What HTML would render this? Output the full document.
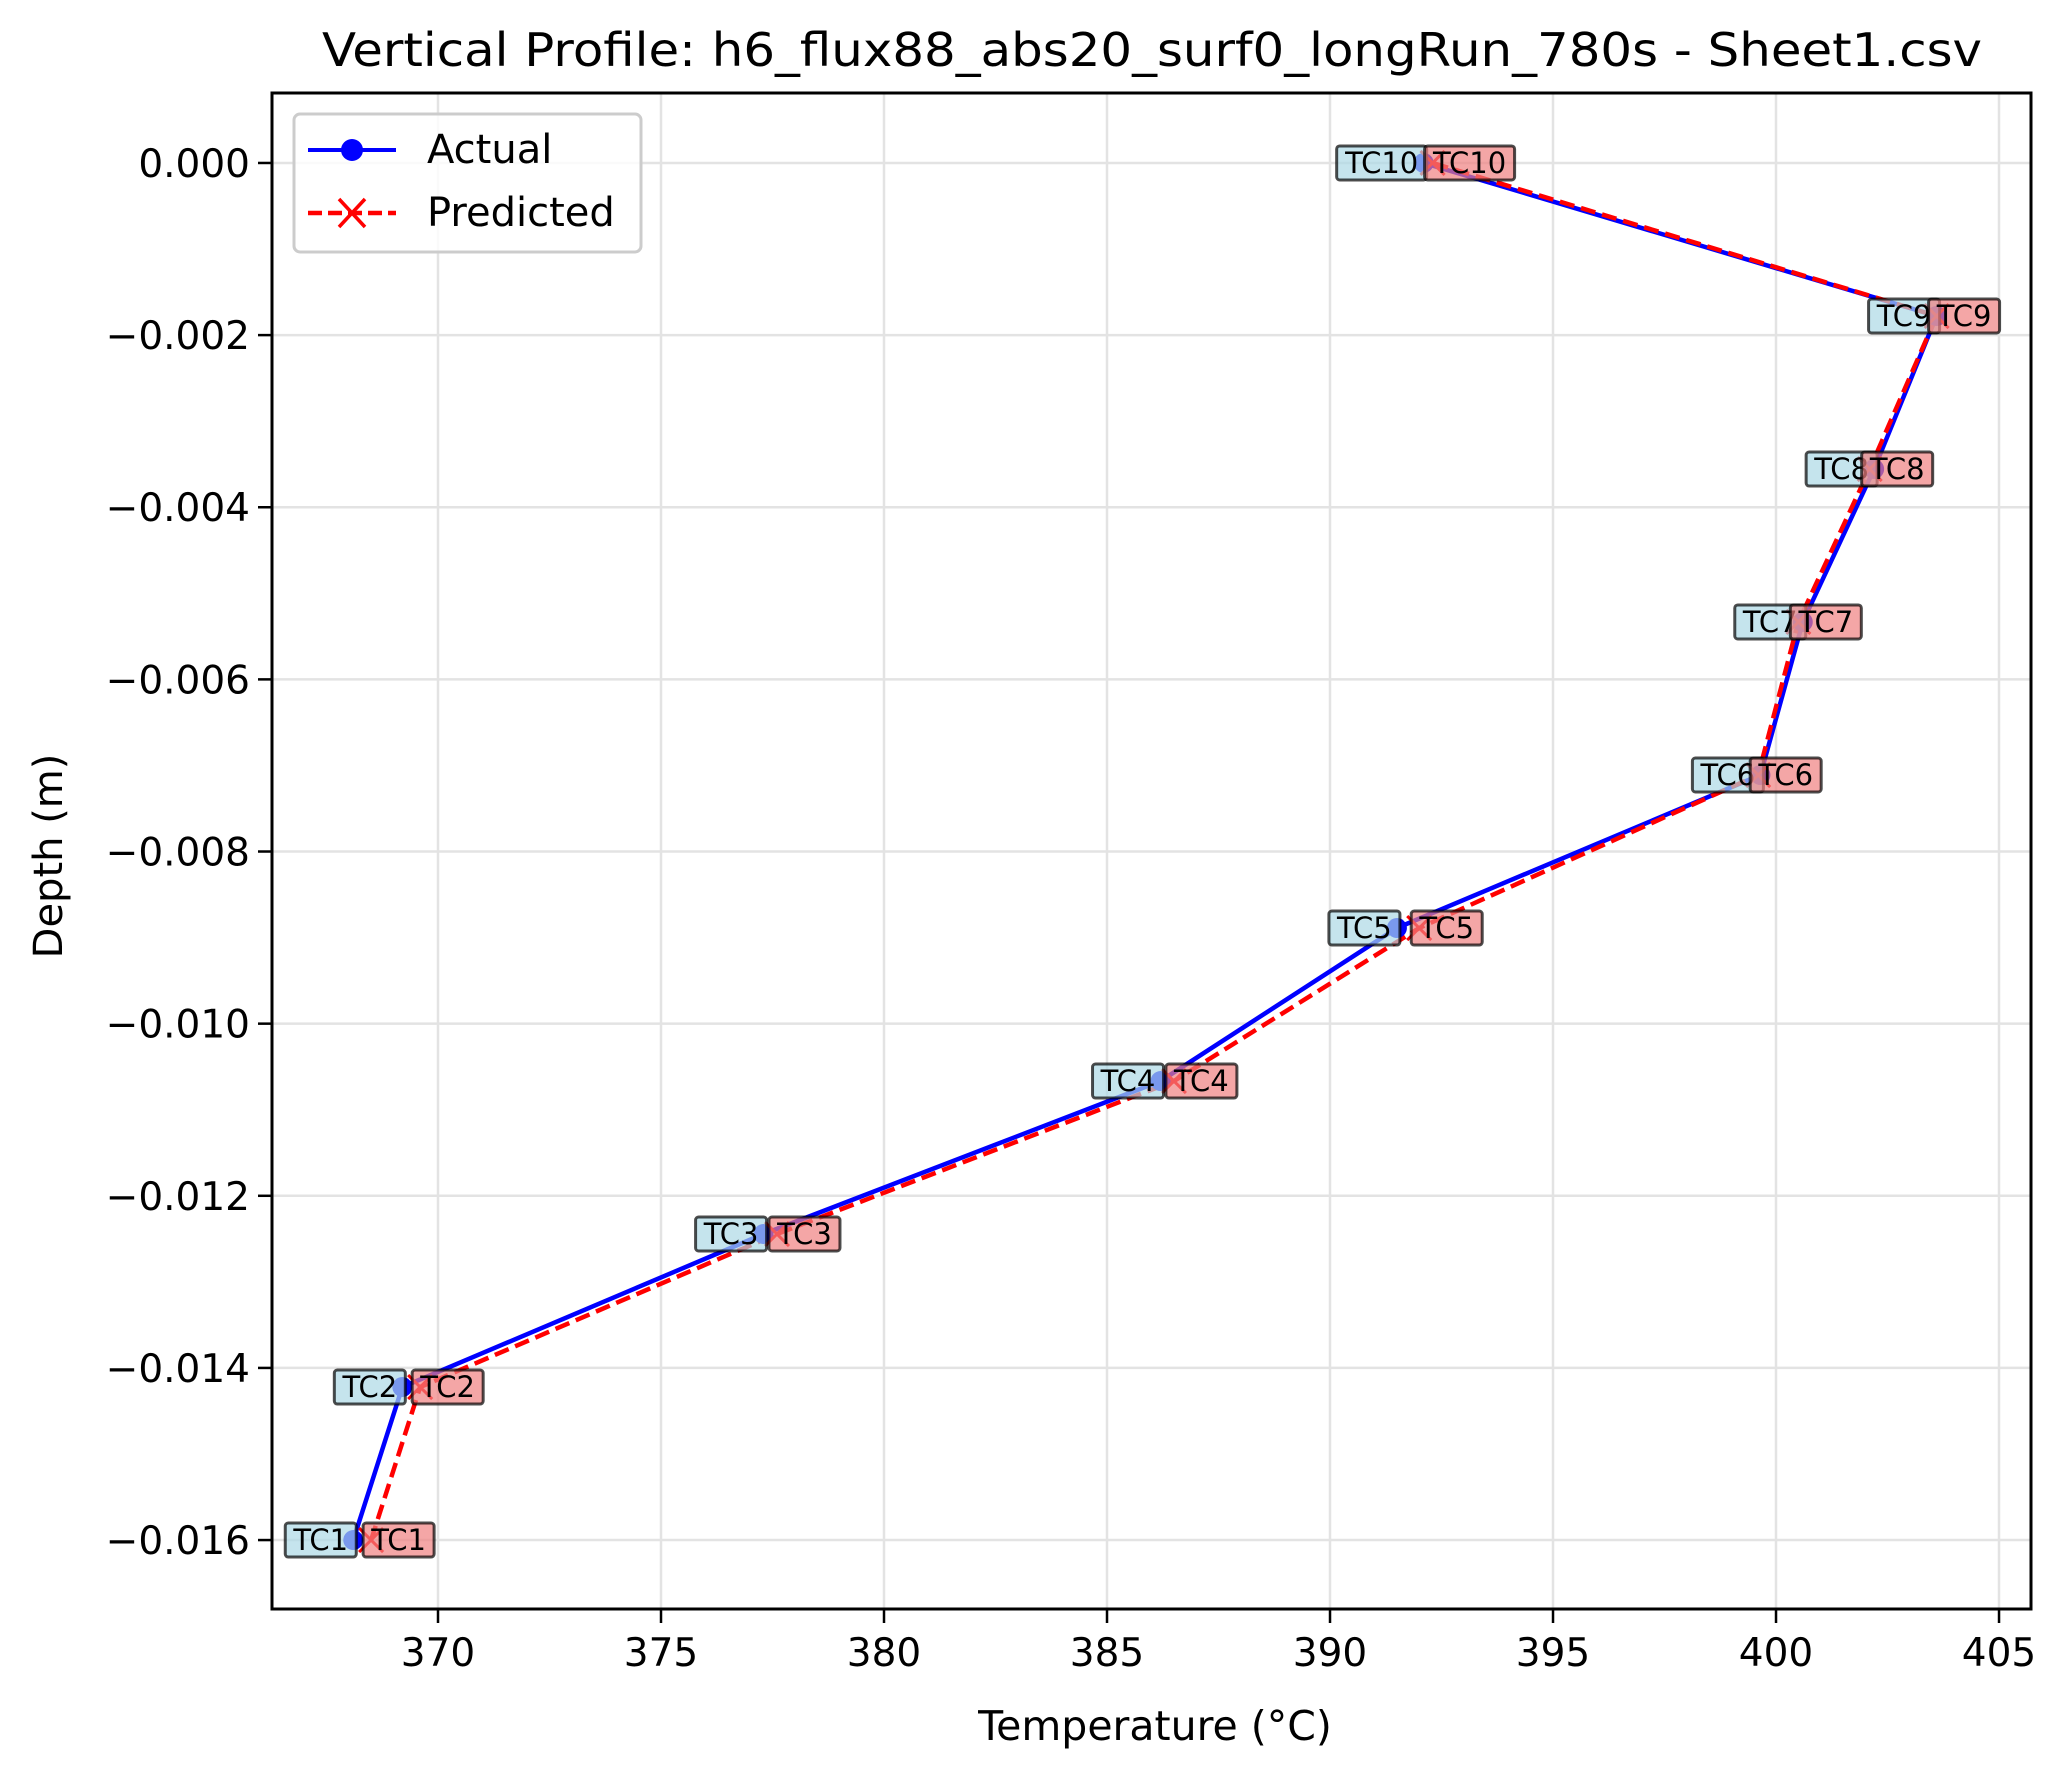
<!DOCTYPE html>
<html><head><meta charset="utf-8"><style>
body{margin:0;background:#fff}
svg text{font-family:"DejaVu Sans","Liberation Sans",sans-serif}
</style></head><body>
<svg id="chart" width="2067" height="1769" viewBox="0 0 2067 1769" xmlns="http://www.w3.org/2000/svg">
<rect width="2067" height="1769" fill="#fff"/>
<g id="grid"></g>
<g id="axes"></g>
<g id="series"></g>
<g id="labels"></g>
<text x="1152" y="66" font-size="46" text-anchor="middle" textLength="1660" lengthAdjust="spacingAndGlyphs">Vertical Profile: h6_flux88_abs20_surf0_longRun_780s - Sheet1.csv</text>
<text x="1155" y="1740" font-size="41" text-anchor="middle">Temperature (°C)</text>
<text x="62" y="856" font-size="40" text-anchor="middle" transform="rotate(-90 62 856)">Depth (m)</text>
<g>
<rect x="294" y="114" width="347" height="138" rx="6" fill="#fff" fill-opacity="0.8" stroke="#ccc" stroke-width="3"/>
<line x1="308" y1="150" x2="396" y2="150" stroke="#0000ff" stroke-width="4"/>
<circle cx="352" cy="150" r="11" fill="#0000ff"/>
<text x="427" y="163" font-size="40">Actual</text>
<line x1="308" y1="213" x2="396" y2="213" stroke="#ff0000" stroke-width="4.5" stroke-dasharray="14,6"/>
<path d="M339 199 L365 227 M365 199 L339 227" stroke="#ff0000" stroke-width="3.5"/>
<text x="427" y="226" font-size="40">Predicted</text>
</g>
</svg>
<script>
const sensors = ["TC1","TC2","TC3","TC4","TC5","TC6","TC7","TC8","TC9","TC10"];
const depths = [-0.016,-0.014222,-0.012444,-0.010667,-0.008889,-0.007111,-0.005333,-0.003556,-0.001778,0];
const actualTemps = [368.1,369.2,377.3,386.2,391.5,399.65,400.6,402.2,403.6,392.1];
const predictedTemps = [368.5,369.6,377.6,386.5,392.0,399.6,400.5,402.1,403.6,392.3];
const xTicks = [370,375,380,385,390,395,400,405];
const yTicks = [0,-0.002,-0.004,-0.006,-0.008,-0.010,-0.012,-0.014,-0.016];

const L=272,R=2031,T=93,B=1609;
const xMin=366.278,xMax=405.717,yMin=-0.016801,yMax=0.000813;
const xs=v=>L+(v-xMin)/(xMax-xMin)*(R-L);
const ys=v=>B-(v-yMin)/(yMax-yMin)*(B-T);
const NS="http://www.w3.org/2000/svg";
function mk(tag,attrs,parent,txt){const e=document.createElementNS(NS,tag);for(const k in attrs)e.setAttribute(k,attrs[k]);if(txt!==undefined)e.textContent=txt;parent.appendChild(e);return e;}
const grid=document.getElementById('grid'),axes=document.getElementById('axes'),ser=document.getElementById('series'),lab=document.getElementById('labels');
xTicks.forEach(t=>{const x=xs(t);
 const g=mk('line',{x1:x,x2:x,y1:T,y2:B,stroke:'#e3e3e3','stroke-width':2.5},grid);
 
 
 mk('line',{x1:x,x2:x,y1:B,y2:B+14,stroke:'#000','stroke-width':2.5},axes);
 const tx=mk('text',{x:x,y:B+57,'font-size':39,'text-anchor':'middle'},axes,String(t));
 
 
});
yTicks.forEach(t=>{const y=ys(t);
 const g=mk('line',{x1:L,x2:R,y1:y,y2:y,stroke:'#e3e3e3','stroke-width':2.5},grid);
 
 
 mk('line',{x1:L-14,x2:L,y1:y,y2:y,stroke:'#000','stroke-width':2.5},axes);
 const s=(t<0?'\u2212':'')+Math.abs(t).toFixed(3);
 const tx=mk('text',{x:L-22,y:y+14,'font-size':39,'text-anchor':'end'},axes,s);
 
 
});
const frame=mk('rect',{x:L,y:T,width:R-L,height:B-T,fill:'none',stroke:'#000','stroke-width':3},axes);



const aPts=actualTemps.map((v,i)=>xs(v)+','+ys(depths[i])).join(' ');
const pPts=predictedTemps.map((v,i)=>xs(v)+','+ys(depths[i])).join(' ');
const al=mk('polyline',{points:aPts,fill:'none',stroke:'#0000ff','stroke-width':4.5},ser);


const pl=mk('polyline',{points:pPts,fill:'none',stroke:'#ff0000','stroke-width':4.5,'stroke-dasharray':'15,7'},ser);


actualTemps.forEach((v,i)=>{
 const c=mk('circle',{cx:xs(v),cy:ys(depths[i]),r:10,fill:'#0000ff'},ser);
 
 
});
predictedTemps.forEach((v,i)=>{const x=xs(v),y=ys(depths[i]);
 const p=mk('path',{d:`M${x-12} ${y-12}L${x+12} ${y+12}M${x+12} ${y-12}L${x-12} ${y+12}`,stroke:'#ff0000','stroke-width':3},ser);
 
 
});
function box(x,y,txt,fill,right){
 const w=txt.length>3?90:71,h=34;
 const bx=right?x-w:x;
 const g=mk('g',{},lab);
 mk('rect',{x:bx,y:y-h/2,width:w,height:h,rx:3,fill:fill,'fill-opacity':0.7,stroke:'#000','stroke-opacity':0.7,'stroke-width':3},g);
 mk('text',{x:bx+w/2,y:y+10,'font-size':29,'text-anchor':'middle'},g,txt);
 return g;
}
actualTemps.forEach((v,i)=>{
 const g=box(xs(v)+3,ys(depths[i]),sensors[i],'#add8e6',true);
 
 
});
predictedTemps.forEach((v,i)=>{
 const g=box(xs(v)-8,ys(depths[i]),sensors[i],'#f08080',false);
 
 
});
</script>
</body></html>
